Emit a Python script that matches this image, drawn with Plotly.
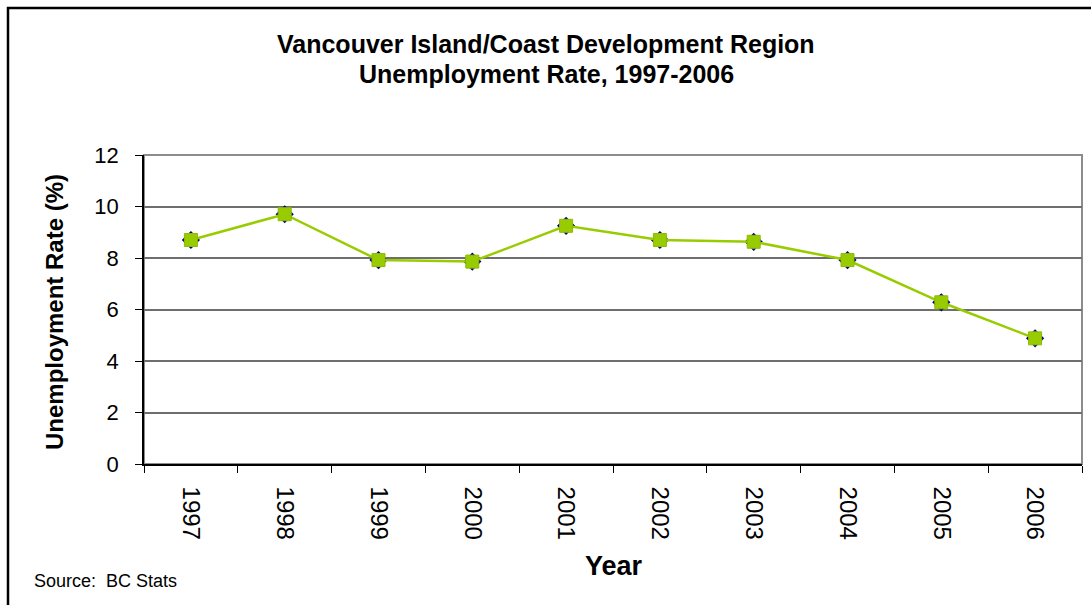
import plotly.graph_objects as go

years = ["1997", "1998", "1999", "2000", "2001", "2002", "2003", "2004", "2005", "2006"]
rate = [8.7, 9.7, 7.92, 7.86, 9.25, 8.7, 8.63, 7.92, 6.28, 4.88]
y_ticks = [0, 2, 4, 6, 8, 10, 12]

title_line1 = "Vancouver Island/Coast Development Region"
title_line2 = "Unemployment Rate, 1997-2006"
y_title = "Unemployment Rate (%)"
x_title = "Year"
source = "Source:\u00a0 BC Stats"

FONT = "Arial, Liberation Sans, sans-serif"

fig = go.Figure()
fig.add_trace(go.Scatter(
    x=years, y=rate, mode="markers",
    marker=dict(symbol="diamond", size=14, color="#000080"),
    showlegend=False, hoverinfo="skip",
))
fig.add_trace(go.Scatter(
    x=years, y=rate, mode="lines+markers",
    line=dict(color="#99CC00", width=2.5),
    marker=dict(symbol="square", size=13, color="#99CC00",
                line=dict(color="#8CBB00", width=1)),
    showlegend=False,
))

W, H = 1091, 605
L, R, T, B = 144, 9, 155, 141
pw = W - L - R
ph = H - T - B

def px_x(x):
    return (x - L) / pw

def px_y(y):
    return (H - B - y) / ph

fig.update_layout(
    width=W, height=H,
    margin=dict(l=L, r=R, t=T, b=B),
    paper_bgcolor="white", plot_bgcolor="white",
    font=dict(family=FONT, color="black"),
    showlegend=False,
    xaxis=dict(
        type="category", range=[-0.5, 9.5],
        tickangle=90, tickfont=dict(size=24, family=FONT, color="black"),
        ticks="outside", ticklen=7, tickcolor="black", tickwidth=1,
        tickson="boundaries",
        showline=True, linecolor="black", linewidth=1.5,
        showgrid=False, ticklabelstandoff=16,
    ),
    yaxis=dict(
        range=[0, 12], tickvals=y_ticks,
        tickfont=dict(size=22, family=FONT, color="black"),
        ticks="outside", ticklen=7, tickcolor="black", tickwidth=1,
        showline=True, linecolor="black", linewidth=1.5,
        showgrid=True, gridcolor="#6E6E6E", gridwidth=1.5,
        zeroline=False, ticklabelstandoff=12,
    ),
    shapes=[
        dict(type="rect", xref="paper", yref="paper", x0=0, x1=1, y0=0, y1=1,
             line=dict(color="#8C8C8C", width=2), layer="below"),
        dict(type="rect", xref="paper", yref="paper",
             x0=px_x(8), x1=px_x(1200), y0=px_y(700), y1=px_y(8),
             line=dict(color="black", width=2.5), layer="below"),
    ],
    annotations=[
        dict(text="<b>" + title_line1 + "</b>", xref="paper", yref="paper",
             x=px_x(546), y=px_y(44), xanchor="center", yanchor="middle",
             showarrow=False, font=dict(size=25, family=FONT, color="black")),
        dict(text="<b>" + title_line2 + "</b>", xref="paper", yref="paper",
             x=px_x(546), y=px_y(74), xanchor="center", yanchor="middle",
             showarrow=False, font=dict(size=25, family=FONT, color="black")),
        dict(text="<b>" + y_title + "</b>", xref="paper", yref="paper",
             x=px_x(54), y=px_y(312), xanchor="center", yanchor="middle",
             textangle=-90, showarrow=False,
             font=dict(size=24, family=FONT, color="black")),
        dict(text="<b>" + x_title + "</b>", xref="paper", yref="paper",
             x=px_x(614), y=px_y(566), xanchor="center", yanchor="middle",
             showarrow=False, font=dict(size=27, family=FONT, color="black")),
        dict(text=source, xref="paper", yref="paper",
             x=px_x(32), y=px_y(581), xanchor="left", yanchor="middle",
             showarrow=False, font=dict(size=18, family=FONT, color="black")),
    ],
)

fig.write_html(
    "out.html",
    config={"displayModeBar": False},
    post_script="document.body.style.margin='0';document.body.style.padding='0';",
)
